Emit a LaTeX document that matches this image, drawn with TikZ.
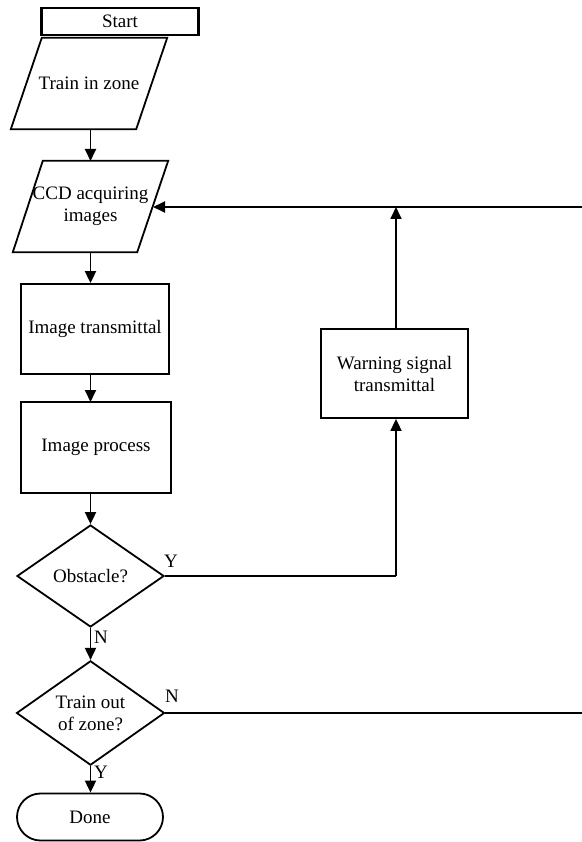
\documentclass[tikz,border=0pt]{standalone}
\usepackage{fontspec}
\setmainfont{Liberation Serif}
\usetikzlibrary{shapes.geometric,shapes.misc,arrows.meta,calc}
\begin{document}
\begin{tikzpicture}[x=1pt,y=-1pt,
  every node/.style={font=\fontsize{19}{22}\selectfont},
  line/.style={line width=1.8pt},
  arr/.style={line width=1.8pt,-{Triangle[length=12pt,width=11pt]}},
  boxst/.style={draw,line width=1.8pt,inner sep=0pt},
  lbl/.style={inner sep=0pt}]
\useasboundingbox (0,0) rectangle (581,842);
% nodes
\node[boxst,line width=2.6pt,minimum width=157,minimum height=27] (start) at (120,21.5) {Start};
\node[inner sep=0pt,minimum width=156,minimum height=91] (tz) at (89,83.5) {Train in zone};
\node[inner sep=0pt,minimum width=155,minimum height=91,align=center] (ccd) at (90.5,206.5) {CCD acquiring\\images};
\node[boxst,minimum width=148,minimum height=90] (it) at (95,329) {Image transmittal};
\node[boxst,minimum width=150,minimum height=91] (ip) at (96,447.5) {Image process};
\node[draw,diamond,line width=1.8pt,inner sep=0pt,minimum width=147,minimum height=102] (obs) at (90.5,576) {Obstacle?};
\node[draw,diamond,line width=1.8pt,inner sep=0pt,minimum width=148,minimum height=101,align=center] (toz) at (90.5,713) {Train out\\of zone?};
\node[draw,rounded rectangle,line width=1.8pt,inner sep=0pt,minimum width=146,minimum height=47] (done) at (90,817) {Done};
\node[boxst,minimum width=147,minimum height=89,align=center] (warn) at (394.5,373.5) {Warning signal\\transmittal};
% parallelograms
\draw[line] ($(tz.north west)+(31,0)$) -- (tz.north east) -- ($(tz.south east)+(-31,0)$) -- (tz.south west) -- cycle;
\draw[line] ($(ccd.north west)+(30,0)$) -- (ccd.north east) -- ($(ccd.south east)+(-31,0)$) -- (ccd.south west) -- cycle;
% labels
\node[lbl] (ly1) at (171,561) {Y};
\node[lbl] (ln1) at (101,637) {N};
\node[lbl] (ln2) at (172,696) {N};
\node[lbl] (ly2) at (101,772) {Y};
% coordinates
\coordinate (ccdin) at (153,207);
\coordinate (ccdtop) at (90.5,161);
\coordinate (rt) at (590,207);
\coordinate (rb) at (590,713);
\coordinate (warnup) at (396,207);
% connectors
\draw[arr] (90.5,129) -- (ccdtop);
\draw[arr] (90.5,252) -- (it.north -| 90.5,0);
\draw[arr] (90.5,374) -- (90.5,402);
\draw[arr] (90.5,493) -- (obs.north);
\draw[arr] (obs.south) -- (toz.north);
\draw[arr] (toz.south) -- (toz.south |- done.north);
\draw[line] (obs.east) -- (396,576);
\draw[arr] (396,576) -- (warn.south -| 396,0);
\draw[arr] (warn.north -| 396,0) -- (warnup);
\draw[line] (toz.east) -- (rb) -- (rt);
\draw[arr] (rt) -- (ccdin);
\end{tikzpicture}
\end{document}
